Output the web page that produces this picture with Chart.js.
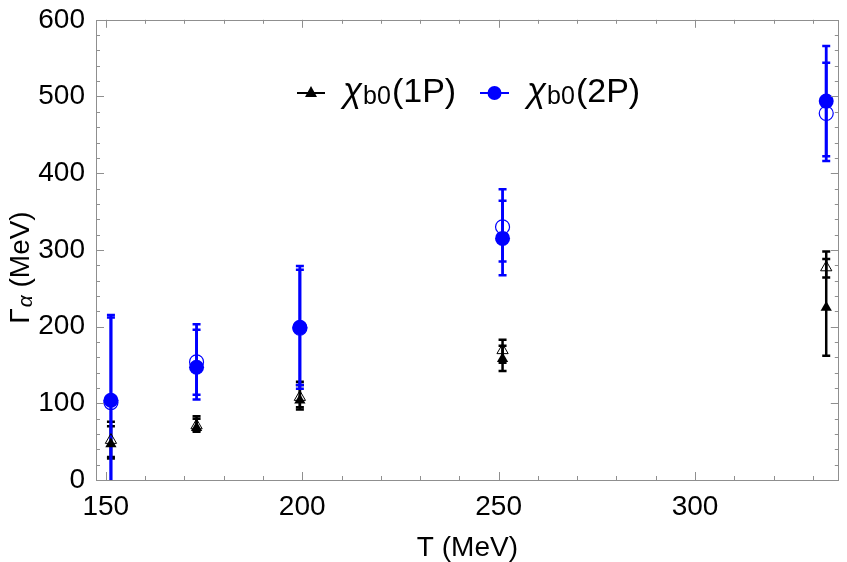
<!DOCTYPE html>
<html><head><meta charset="utf-8">
<script src="https://cdn.jsdelivr.net/npm/chart.js@4/dist/chart.umd.min.js"></script>
<style>html,body{margin:0;padding:0;background:#fff}#wrap{width:847px;height:562px}</style>
</head><body><div id="wrap"><canvas id="c" width="847" height="562"></canvas></div>
<script>
// ---- data ----
const temperatures = [151.3, 173.1, 199.4, 251.0, 333.4];

const width1P      = [47, 68, 104, 158, 225];
const width1PLow   = [30, 63, 92, 142, 162];
const width1PHigh  = [70, 80, 124, 175, 288];
const width1POpen      = [52, 71, 108, 169, 277];
const width1POpenLow   = [28, 65, 95, 153, 264];
const width1POpenHigh  = [76, 83, 128, 183, 298];

const width2P      = [104, 147, 199, 315, 494];
const width2PLow   = [-6, 105, 119, 267, 422];
const width2PHigh  = [212, 196, 279, 364, 566];
const width2POpen      = [101, 154, 198, 330, 478];
const width2POpenLow   = [-12, 111, 124, 285, 416];
const width2POpenHigh  = [215, 203, 274, 379, 544];

const xTicks = [150,160,170,180,190,200,210,220,230,240,250,260,270,280,290,300,310,320,330];
const yTicks = [0,20,40,60,80,100,120,140,160,180,200,220,240,260,280,300,320,340,360,380,400,420,440,460,480,500,520,540,560,580,600];
const xTickLabels = [150, 200, 250, 300];
const yTickLabels = [0, 100, 200, 300, 400, 500, 600];

const seriesNames = ['1P', '2P'];
const BLUE = '#0000ff';
const BLACK = '#000000';
const AXIS = '#8f8f8f';
const FONT = "'Liberation Sans', Arial, sans-serif";

function pts(ys){ return temperatures.map((t,i)=>({x:t, y:ys[i]})); }

const errorGroups = [
  {color: BLACK, lw: 2.5, low: width1POpenLow, high: width1POpenHigh},
  {color: BLACK, lw: 2.5, low: width1PLow, high: width1PHigh},
  {color: BLUE, lw: 2.8, low: width2POpenLow, high: width2POpenHigh},
  {color: BLUE, lw: 2.8, low: width2PLow, high: width2PHigh},
];

const errorBarsPlugin = {
  id: 'errorBars',
  beforeDatasetsDraw(chart){
    const {ctx, chartArea: a, scales:{x, y}} = chart;
    ctx.save();
    ctx.beginPath(); ctx.rect(a.left, a.top-2, a.right-a.left, a.bottom-a.top+2); ctx.clip();
    errorGroups.forEach(g=>{
      ctx.strokeStyle = g.color; ctx.lineCap = 'butt';
      temperatures.forEach((t,i)=>{
        const px = x.getPixelForValue(t);
        const y1 = y.getPixelForValue(g.low[i]);
        const y2 = y.getPixelForValue(g.high[i]);
        ctx.lineWidth = g.lw;
        ctx.beginPath(); ctx.moveTo(px, y1); ctx.lineTo(px, y2); ctx.stroke();
        ctx.lineWidth = 2.5;
        ctx.beginPath();
        ctx.moveTo(px-4, y1); ctx.lineTo(px+4, y1);
        ctx.moveTo(px-4, y2); ctx.lineTo(px+4, y2);
        ctx.stroke();
      });
    });
    ctx.restore();
  }
};

const framePlugin = {
  id: 'frame',
  afterDraw(chart){
    const {ctx, chartArea: a, scales:{x, y}} = chart;
    ctx.save();
    ctx.strokeStyle = AXIS; ctx.lineWidth = 1;
    ctx.strokeRect(Math.round(a.left)+0.5, Math.round(a.top)+0.5, Math.round(a.right-a.left)-1, Math.round(a.bottom-a.top));
    ctx.beginPath();
    xTicks.forEach(v=>{
      const px = Math.round(x.getPixelForValue(v))+0.5;
      const len = (v % 50 === 0) ? 8 : 4;
      ctx.moveTo(px, a.bottom); ctx.lineTo(px, a.bottom-len);
      ctx.moveTo(px, a.top); ctx.lineTo(px, a.top+len);
    });
    yTicks.forEach(v=>{
      const py = Math.round(y.getPixelForValue(v))+0.5;
      const len = (v % 100 === 0) ? 8 : 4;
      ctx.moveTo(a.left, py); ctx.lineTo(a.left+len, py);
      ctx.moveTo(a.right, py); ctx.lineTo(a.right-len, py);
    });
    ctx.stroke();

    // axis titles
    ctx.fillStyle = '#000';
    ctx.textBaseline = 'alphabetic';
    ctx.font = `28px ${FONT}`;
    ctx.textAlign = 'center';
    ctx.fillText('T (MeV)', (a.left+a.right)/2, 556);

    // y title: Γ_α (MeV), rotated
    ctx.save();
    ctx.translate(29, 268);
    ctx.rotate(-Math.PI/2);
    ctx.textAlign = 'left';
    const f1 = `28px ${FONT}`, f2 = `italic 21px ${FONT}`;
    ctx.font = f1; const wG = ctx.measureText('Γ').width;
    ctx.font = f2; const wA = ctx.measureText('α').width;
    ctx.font = f1; const wR = ctx.measureText(' (MeV)').width;
    let sx = -(wG+wA+wR)/2;
    ctx.font = f1; ctx.fillText('Γ', sx, 0); sx += wG;
    ctx.font = f2; ctx.fillText('α', sx+1, 3); sx += wA+1;
    ctx.font = f1; ctx.fillText(' (MeV)', sx, 0);
    ctx.restore();

    // legend
    const ly = 93, base = 102;
    function legendLabel(x0, name){
      ctx.textAlign = 'left';
      let cx = x0;
      ctx.font = `italic 35px ${FONT}`; ctx.fillText('χ', cx, base); cx += ctx.measureText('χ').width + 1;
      ctx.font = `25px ${FONT}`; ctx.fillText('b0', cx, base+2); cx += ctx.measureText('b0').width + 1;
      ctx.font = `34px ${FONT}`; ctx.fillText('(' + name + ')', cx, base);
    }
    ctx.strokeStyle = BLACK; ctx.lineWidth = 2;
    ctx.beginPath(); ctx.moveTo(297, ly); ctx.lineTo(325, ly); ctx.stroke();
    ctx.fillStyle = BLACK;
    ctx.beginPath(); ctx.moveTo(311, ly-7); ctx.lineTo(317, ly+4); ctx.lineTo(305, ly+4); ctx.closePath(); ctx.fill();
    legendLabel(343, seriesNames[0]);
    ctx.strokeStyle = BLUE; ctx.lineWidth = 2;
    ctx.beginPath(); ctx.moveTo(480, ly); ctx.lineTo(509, ly); ctx.stroke();
    ctx.fillStyle = BLUE;
    ctx.beginPath(); ctx.arc(494.5, ly, 7, 0, Math.PI*2); ctx.fill();
    ctx.fillStyle = '#000';
    legendLabel(527, seriesNames[1]);
    ctx.restore();
  }
};

new Chart(document.getElementById('c'), {
  type: 'scatter',
  data: {
    datasets: [
      {label:'χb0(2P)', data: pts(width2P), pointStyle:'circle', pointRadius:7.5, pointBackgroundColor:BLUE, pointBorderColor:BLUE, pointBorderWidth:0, order:1},
      {label:'χb0(2P) open', data: pts(width2POpen), pointStyle:'circle', pointRadius:7, pointBackgroundColor:'rgba(0,0,0,0)', pointBorderColor:BLUE, pointBorderWidth:1.2, order:2},
      {label:'χb0(1P)', data: pts(width1P), pointStyle:'triangle', pointRadius:6.5, pointBackgroundColor:BLACK, pointBorderColor:BLACK, pointBorderWidth:0, order:3},
      {label:'χb0(1P) open', data: pts(width1POpen), pointStyle:'triangle', pointRadius:6.5, pointBackgroundColor:'rgba(0,0,0,0)', pointBorderColor:BLACK, pointBorderWidth:1, order:4},
    ]
  },
  options: {
    responsive: false,
    devicePixelRatio: 1,
    animation: false,
    layout: {padding: {top: 18, right: 5, left: 0, bottom: 0}},
    plugins: {legend: {display:false}, tooltip: {enabled:false}},
    scales: {
      x: {
        type:'linear', min:147.5, max:336.6,
        afterBuildTicks(s){ s.ticks = xTicks.map(v=>({value:v})); },
        afterFit(s){ s.height = 82; },
        grid:{display:false}, border:{display:false},
        ticks:{autoSkip:false, maxRotation:0, padding:2, color:'#000', font:{family:FONT, size:28},
          callback:(v)=> xTickLabels.includes(v) ? String(v) : ''}
      },
      y: {
        type:'linear', min:0, max:600,
        afterBuildTicks(s){ s.ticks = yTicks.map(v=>({value:v})); },
        afterFit(s){ s.width = 96; },
        grid:{display:false}, border:{display:false},
        ticks:{autoSkip:false, padding:3, color:'#000', font:{family:FONT, size:28},
          callback:(v)=> yTickLabels.includes(v) ? String(v) : ''}
      }
    }
  },
  plugins: [errorBarsPlugin, framePlugin]
});
</script>
</body></html>
